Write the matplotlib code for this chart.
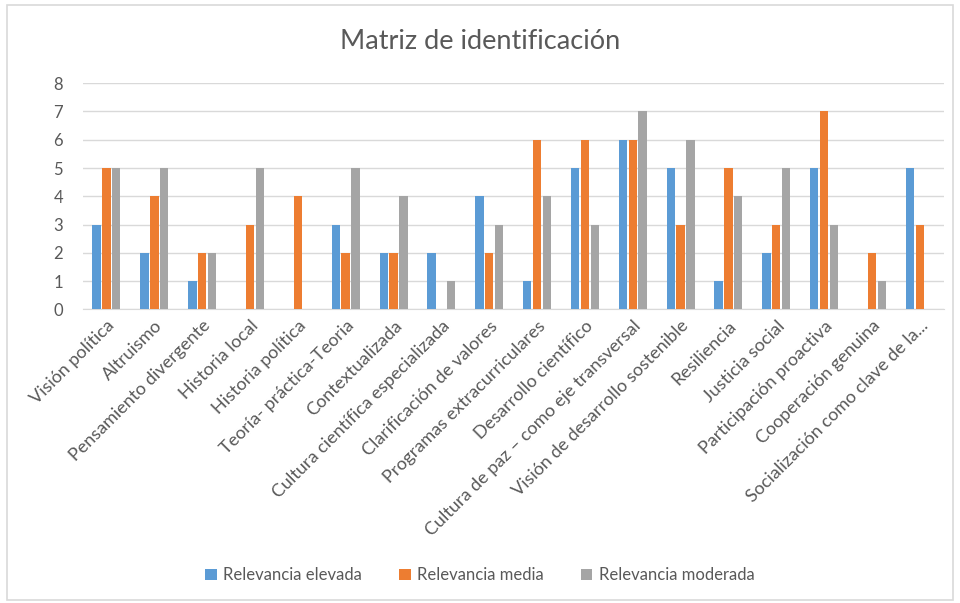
import numpy as np
import matplotlib.pyplot as plt
from matplotlib.patches import Rectangle

plt.rcParams["font.family"] = ["Lato", "DejaVu Sans"]

categorias = [
    "Visión política", "Altruismo", "Pensamiento divergente", "Historia local",
    "Historia política", "Teoría- práctica-Teoria", "Contextualizada",
    "Cultura científica especializada", "Clarificación de valores",
    "Programas extracurriculares", "Desarrollo científico",
    "Cultura de paz – como eje transversal", "Visión de desarrollo sostenible",
    "Resiliencia", "Justicia social", "Participación proactiva",
    "Cooperación genuina", "Socialización como clave de la...",
]
elevada = [3, 2, 1, 0, 0, 3, 2, 2, 4, 1, 5, 6, 5, 1, 2, 5, 0, 5]
media = [5, 4, 2, 3, 4, 2, 2, 0, 2, 6, 6, 6, 3, 5, 3, 7, 2, 3]
moderada = [5, 5, 2, 5, 0, 5, 4, 1, 3, 4, 3, 7, 6, 4, 5, 3, 1, 0]

series = [
    ("Relevancia elevada", elevada, "#5B9BD5"),
    ("Relevancia media", media, "#ED7D31"),
    ("Relevancia moderada", moderada, "#A5A5A5"),
]
txt = "#595959"

fig = plt.figure(figsize=(9.6, 6.03), dpi=100)
ax = fig.add_axes([0.086, 0.487, 0.897, 0.375])

x = np.arange(len(categorias))
step = 0.205
for i, (nombre, vals, color) in enumerate(series):
    ax.bar(x + (i - 1) * step, vals, width=0.175, color=color, label=nombre, zorder=3)

ax.set_xlim(-0.5, len(categorias) - 0.5)
ax.set_ylim(0, 8)
ax.set_yticks(range(0, 9))
ax.grid(axis="y", color="#D9D9D9", linewidth=1, zorder=0)
for s in ["top", "right", "left"]:
    ax.spines[s].set_visible(False)
ax.spines["bottom"].set_color("#D9D9D9")
ax.tick_params(axis="both", length=0, colors=txt, labelsize=12)
ax.tick_params(axis="y", pad=14)
ax.tick_params(axis="x", pad=6, labelsize=13)
ax.set_xticks(x)
ax.set_xticklabels(categorias, rotation=45, ha="right", rotation_mode="anchor")

fig.text(0.5, 0.932, "Matriz de identificación", ha="center", va="center",
         fontsize=19.5, color=txt)

fig.legend(loc="center", bbox_to_anchor=(0.5, 0.046), ncol=3, frameon=False,
           fontsize=12, labelcolor=txt, handlelength=0.7, handleheight=0.7,
           columnspacing=2.2, handletextpad=0.4)

fig.patches.append(Rectangle((0.007, 0.005), 0.986, 0.986, transform=fig.transFigure,
                             fill=False, edgecolor="#D9D9D9", linewidth=1.2))

fig.savefig("out.png", dpi=100)
